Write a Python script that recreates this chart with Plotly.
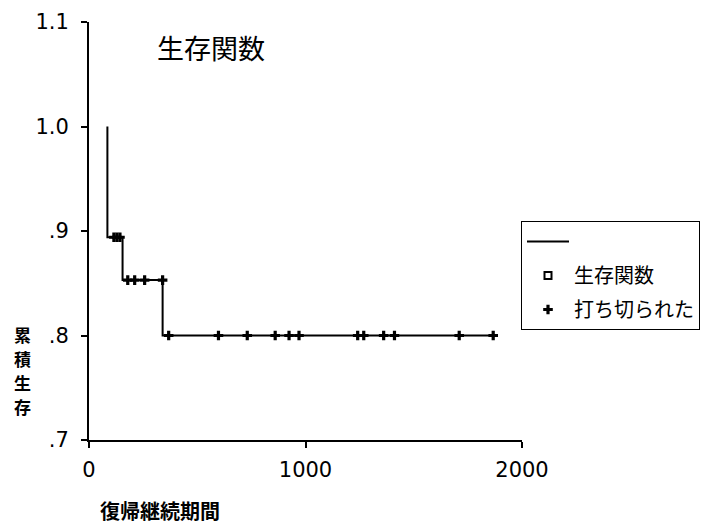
import plotly.graph_objects as go

# Data
event_times = [85, 155, 340]
event_surv = [0.894, 0.853, 0.800]
start_surv = 1.0
last_time = 1867

censor_times = [115, 129, 143,
                179, 211, 257, 340,
                368, 598, 731, 860, 924, 970, 1241, 1269, 1361, 1411, 1710, 1867]
censor_surv = [0.894, 0.894, 0.894,
               0.853, 0.853, 0.853, 0.853,
               0.800, 0.800, 0.800, 0.800, 0.800, 0.800, 0.800, 0.800, 0.800, 0.800, 0.800, 0.800]

y_tickvals = [0.7, 0.8, 0.9, 1.0, 1.1]
y_ticktext = [".7", ".8", ".9", "1.0", "1.1"]
x_tickvals = [0, 1000, 2000]
x_ticktext = ["0", "1000", "2000"]

FONT = "Noto Sans CJK JP"
NUMFONT = "DejaVu Sans"

step_x = [event_times[0]] + event_times + [last_time]
step_y = [start_surv] + event_surv + [event_surv[-1]]

W, H = 707, 524
l, r, t, b = 89, 185, 22, 84
pw, ph = W - l - r, H - t - b


def px2paper(px, py):
    return (px - l) / pw, (H - b - py) / ph


fig = go.Figure()
fig.add_trace(go.Scatter(
    x=step_x, y=step_y, mode="lines", line=dict(color="black", width=2, shape="hv"),
    name="", legendgroup="a", showlegend=True, hoverinfo="skip"))
fig.add_trace(go.Scatter(
    x=[None], y=[None], mode="markers",
    marker=dict(symbol="square-open", size=7, color="black", line=dict(width=2, color="black")),
    name="生存関数", legendgroup="b"))
fig.add_trace(go.Scatter(
    x=censor_times, y=censor_surv, mode="markers",
    marker=dict(symbol="cross", size=8, color="black", line=dict(width=0)),
    name="打ち切られた", legendgroup="c"))

annotations = []
tx, ty = px2paper(211, 47)
annotations.append(dict(text="生存関数", x=tx, y=ty, xref="paper", yref="paper",
                        xanchor="center", yanchor="middle", showarrow=False,
                        font=dict(family=FONT, size=27, color="black")))
for ch, py in zip("累積生存", [334, 358, 382, 406]):
    ax, ay = px2paper(22, py)
    annotations.append(dict(text="<b>" + ch + "</b>", x=ax, y=ay, xref="paper", yref="paper",
                            xanchor="center", yanchor="middle", showarrow=False,
                            font=dict(family=FONT, size=17, color="black"),
                            height=22, borderpad=0))
xx, xy = px2paper(160, 510)
annotations.append(dict(text="<b>復帰継続期間</b>", x=xx, y=xy, xref="paper", yref="paper",
                        xanchor="center", yanchor="middle", showarrow=False,
                        font=dict(family=FONT, size=20, color="black")))

lx, ly = px2paper(521, 221)

fig.update_layout(
    width=W, height=H,
    paper_bgcolor="white", plot_bgcolor="white",
    margin=dict(l=l, r=r, t=t, b=b, autoexpand=False),
    font=dict(family=FONT, color="black", size=20),
    showlegend=True,
    legend=dict(
        x=lx, y=ly, xanchor="left", yanchor="top",
        bordercolor="black", borderwidth=1, bgcolor="white",
        font=dict(family=FONT, size=20, color="black"),
        tracegroupgap=5, itemwidth=42, traceorder="grouped",
    ),
    xaxis=dict(
        range=[0, 2000], tickvals=x_tickvals, ticktext=x_ticktext,
        showline=True, linecolor="black", linewidth=2, showgrid=False, zeroline=False,
        ticks="outside", ticklen=6, tickwidth=2, tickcolor="black",
        ticklabelstandoff=4,
        tickfont=dict(family=NUMFONT, size=21, color="black"),
    ),
    yaxis=dict(
        range=[0.7, 1.1], tickvals=y_tickvals, ticktext=y_ticktext,
        showline=True, linecolor="black", linewidth=2, showgrid=False, zeroline=False,
        ticks="outside", ticklen=6, tickwidth=2, tickcolor="black",
        ticklabelstandoff=8,
        tickfont=dict(family=NUMFONT, size=21, color="black"),
    ),
    annotations=annotations,
)

fig.write_html("out.html", config={"displayModeBar": False},
               post_script="document.body.style.margin='0';document.body.style.overflow='hidden';")
